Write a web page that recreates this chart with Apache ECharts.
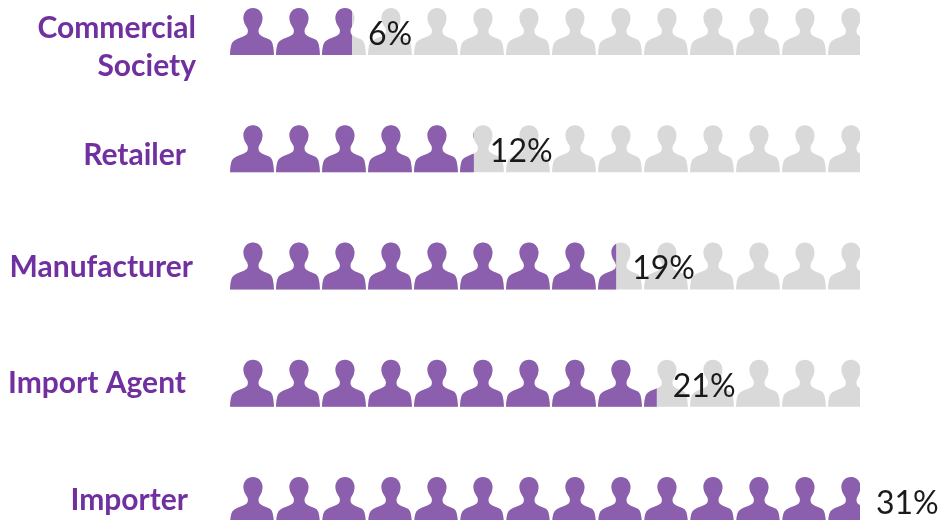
<!DOCTYPE html>
<html>
<head>
<meta charset="utf-8">
<style>
  html, body { margin: 0; padding: 0; background: #fff; }
  #chart { width: 943px; height: 520px; }
</style>
</head>
<body>
<div id="chart"></div>
<script src="https://cdn.jsdelivr.net/npm/echarts@6/dist/echarts.min.js"></script>
<script>
const categories = ['Commercial\nSociety', 'Retailer', 'Manufacturer', 'Import Agent', 'Importer']
const shares = [6, 12, 19, 21, 31]
const fullScale = 31
// 14 figures are laid out, the last one gets cut off at the full scale value
const figureSpan = 31.59

// head and shoulders outline, stretched to symbolSize by echarts
const person = 'path://M24 0C29.5 0 34 4 34 10C34 14 32.5 17 30.5 20C29.5 22 29.5 24 30.5 26C33 29 39 30 42 32C45 34 45.5 40 46 47L0 47C.5 40 1 35 4 33C8 30 15 29 18 26C19 24 19 22 18 20C16 17 14 14 14 10C14 4 18.5 0 24 0Z'

const labelFont = { fontFamily: 'Lato', fontWeight: 'bold', fontSize: 30, color: '#7030A0', lineHeight: 38, align: 'right' }

const chart = echarts.init(document.getElementById('chart'), null, { renderer: 'canvas' })

function personSeries(data, color, z) {
  return {
    type: 'pictorialBar',
    symbol: person,
    symbolRepeat: 'fixed',
    symbolSize: [44, 47],
    symbolMargin: 1,
    symbolClip: true,
    symbolBoundingData: figureSpan,
    itemStyle: { color: color },
    silent: true,
    z: z,
    data: data
  }
}

chart.setOption({
  animation: false,
  grid: { left: 230, width: 630, top: -27, height: 586, outerBoundsMode: 'none' },
  xAxis: { type: 'value', min: 0, max: fullScale, show: false },
  yAxis: {
    type: 'category',
    inverse: true,
    data: categories,
    axisLine: { show: false },
    axisTick: { show: false },
    axisLabel: {
      margin: 0,
      formatter: function (value, index) {
        const lines = value.split('\n').map(function (t) { return '{r' + index + '|' + t + '}' })
        // the two line label sits lower than its row centre
        if (lines.length > 1) lines.unshift('{gap| }')
        return lines.join('\n')
      },
      rich: {
        gap: { fontSize: 1, lineHeight: 32 },
        r0: { ...labelFont, padding: [0, 34, 0, 0] },
        r1: { ...labelFont, padding: [14, 44, 0, 0] },
        r2: { ...labelFont, padding: [2, 37, 0, 0] },
        r3: { ...labelFont, padding: [0, 44, 0, 0] },
        r4: { ...labelFont, padding: [0, 42, 0, 0] }
      }
    }
  },
  series: [
    personSeries(shares.map(function () { return fullScale }), '#D9D9D9', 2),
    personSeries(shares, '#8B5FAE', 3),
    {
      type: 'bar',
      data: shares,
      barWidth: 40,
      silent: true,
      z: 4,
      itemStyle: { color: 'rgba(0,0,0,0)' },
      label: {
        show: true,
        position: 'right',
        distance: 16,
        formatter: '{c}%',
        fontFamily: 'Lato',
        fontSize: 32,
        color: '#1a1a1a',
        offset: [0, 3]
      }
    }
  ]
})
</script>
</body>
</html>
